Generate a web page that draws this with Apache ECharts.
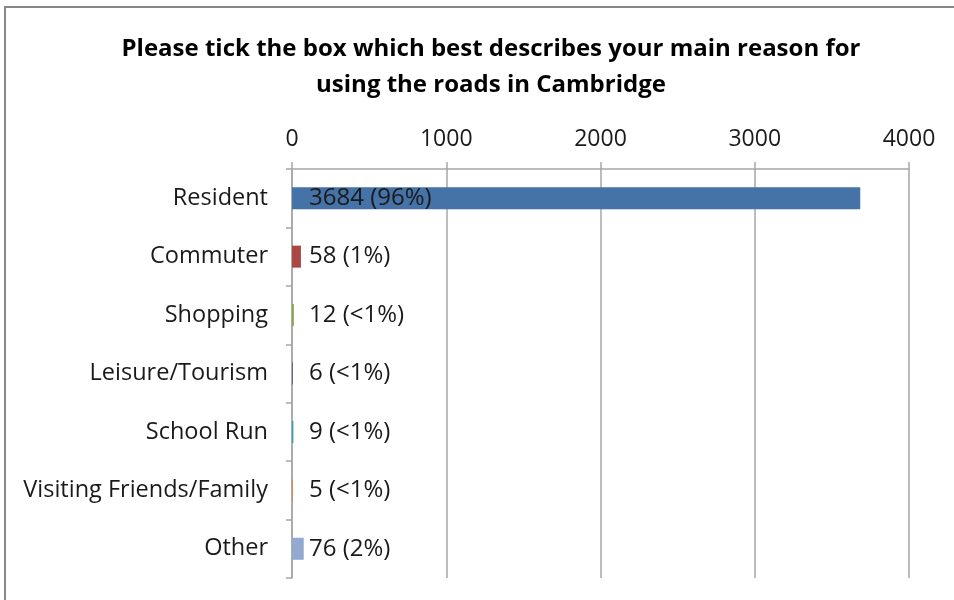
<!DOCTYPE html>
<html>
<head>
<meta charset="utf-8">
<script src="https://cdn.jsdelivr.net/npm/echarts@6/dist/echarts.min.js"></script>
<style>
  html, body { margin: 0; padding: 0; background: #fff; }
  #chart { width: 954px; height: 600px; }
</style>
</head>
<body>
<div id="chart"></div>
<script>
// Survey responses: main reason for using the roads
const categories = ['Resident', 'Commuter', 'Shopping', 'Leisure/Tourism', 'School Run', 'Visiting Friends/Family', 'Other'];
const counts = [3684, 58, 12, 6, 9, 5, 76];
const shares = ['96%', '1%', '<1%', '<1%', '<1%', '<1%', '2%'];
const barColors = ['#4572A7', '#AA4643', '#89A54E', '#71588F', '#4198AF', '#DB843D', '#93A9CF'];
const axisTicks = [0, 1000, 2000, 3000, 4000];

const FONT = '"Open Sans", "Liberation Sans", sans-serif';
const GRID = '#a6a6a6';

const chart = echarts.init(document.getElementById('chart'), null, { renderer: 'canvas' });

chart.setOption({
  animation: false,
  backgroundColor: '#fff',
  textStyle: { fontFamily: FONT },
  title: {
    text: 'Please tick the box which best describes your main reason for\nusing the roads in Cambridge',
    left: 486,
    textAlign: 'center',
    top: 26,
    textStyle: { fontFamily: FONT, fontSize: 24, fontWeight: 'bold', color: '#000', lineHeight: 36 }
  },
  graphic: [{
    type: 'rect',
    shape: { x: 5, y: 7, width: 1000, height: 700 },
    style: { fill: null, stroke: '#878787', lineWidth: 2 },
    silent: true
  }],
  grid: { left: 292, right: 45, top: 169, bottom: 22, containLabel: false },
  xAxis: {
    type: 'value',
    position: 'top',
    min: axisTicks[0],
    max: axisTicks[axisTicks.length - 1],
    interval: axisTicks[1] - axisTicks[0],
    axisLine: { show: true, lineStyle: { color: GRID, width: 1.5 } },
    axisTick: { show: true, length: 7, lineStyle: { color: GRID, width: 1.5 } },
    splitLine: { show: true, lineStyle: { color: GRID, width: 1.5 } },
    axisLabel: { fontFamily: FONT, fontSize: 23, color: '#1a1a1a', margin: 18, formatter: v => String(v) }
  },
  yAxis: {
    type: 'category',
    inverse: true,
    data: categories,
    axisLine: { show: true, lineStyle: { color: GRID, width: 1.5 } },
    axisTick: { show: true, length: 6, lineStyle: { color: GRID, width: 1.5 } },
    axisLabel: { fontFamily: FONT, fontSize: 23.5, color: '#1a1a1a', margin: 24 }
  },
  series: [{
    type: 'bar',
    barWidth: 22,
    data: counts.map((v, i) => ({ value: v, itemStyle: { color: barColors[i] } })),
    label: {
      show: true,
      position: [17, '50%'],
      align: 'left',
      verticalAlign: 'middle',
      fontFamily: FONT,
      fontSize: 24,
      color: '#1a1a1a',
      formatter: p => counts[p.dataIndex] + ' (' + shares[p.dataIndex] + ')'
    }
  }]
});
</script>
</body>
</html>
